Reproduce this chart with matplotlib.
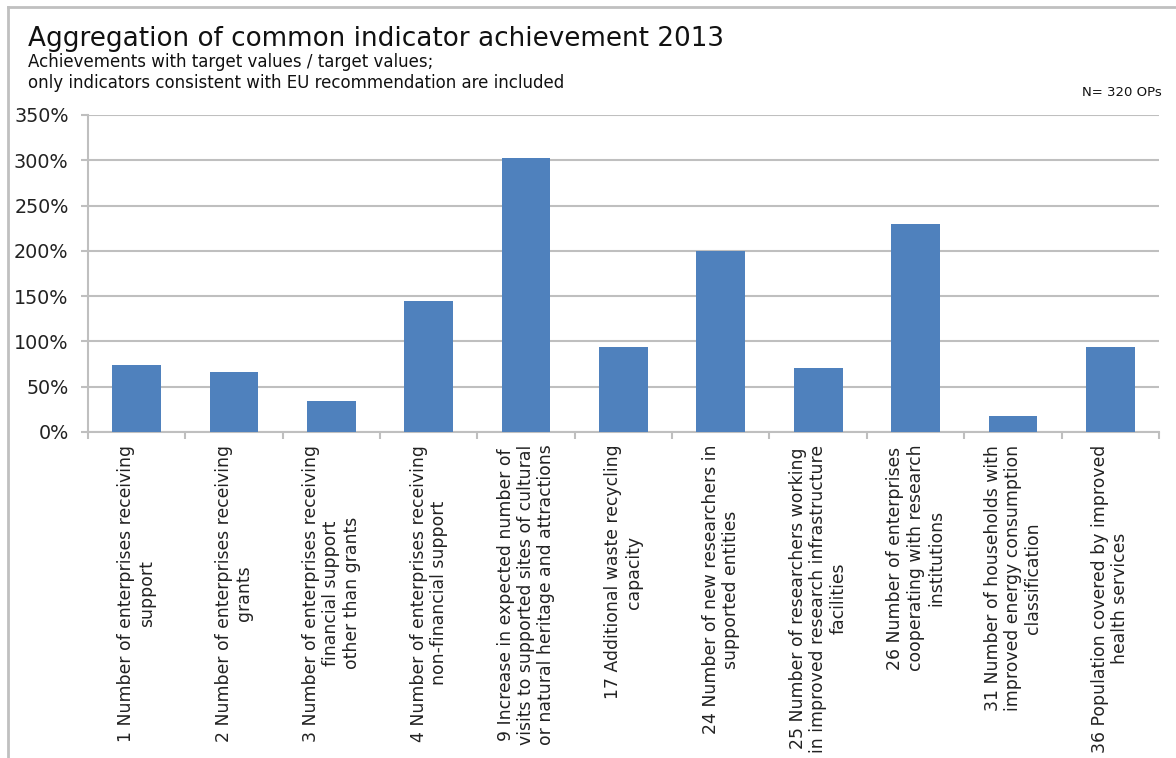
import matplotlib.pyplot as plt
from matplotlib.lines import Line2D

categories = [
    "1 Number of enterprises receiving\nsupport",
    "2 Number of enterprises receiving\ngrants",
    "3 Number of enterprises receiving\nfinancial support\nother than grants",
    "4 Number of enterprises receiving\nnon-financial support",
    "9 Increase in expected number of\nvisits to supported sites of cultural\nor natural heritage and attractions",
    "17 Additional waste recycling\ncapacity",
    "24 Number of new researchers in\nsupported entities",
    "25 Number of researchers working\nin improved research infrastructure\nfacilities",
    "26 Number of enterprises\ncooperating with research\ninstitutions",
    "31 Number of households with\nimproved energy consumption\nclassification",
    "36 Population covered by improved\nhealth services",
]
achievement = [74, 66, 34, 145, 302, 94, 200, 71, 230, 18, 94]
yticks = [0, 50, 100, 150, 200, 250, 300, 350]

grey = '#bfbfbf'
fig = plt.figure(figsize=(11.76, 7.58), dpi=100)
ax = fig.add_axes([0.0748, 0.4301, 0.9107, 0.4182])

x = list(range(len(categories)))
ax.bar(x, achievement, width=0.5, color='#4f81bd', zorder=3)

ax.set_xlim(-0.5, len(categories) - 0.5)
ax.set_ylim(0, 350)
ax.set_yticks(yticks)
ax.set_yticklabels([f"{v}%" for v in yticks], fontsize=13.8, color='#222222')
ax.yaxis.grid(True, color=grey, lw=1.5, zorder=0)

# ticks sit between categories, labels at the centres
ax.set_xticks([i - 0.5 for i in range(len(categories) + 1)])
ax.set_xticklabels([])
ax.tick_params(axis='x', length=5, width=1.5, color=grey)
ax.tick_params(axis='y', length=5, width=1.5, color=grey, pad=9)
for i, lab in enumerate(categories):
    ax.text(i, -0.04, lab, transform=ax.get_xaxis_transform(),
            rotation=90, ha='center', va='top', multialignment='center',
            fontsize=12.4, color='#222222', linespacing=1.17)

for side in ('top', 'right'):
    ax.spines[side].set_visible(False)
for side in ('left', 'bottom'):
    ax.spines[side].set_color(grey)
    ax.spines[side].set_linewidth(1.5)

# outer chart frame
fig.add_artist(Line2D([8 / 1176, 1.0], [1 - 7 / 758, 1 - 7 / 758],
                      transform=fig.transFigure, color='#c0c0c0', lw=2))
fig.add_artist(Line2D([8 / 1176, 8 / 1176], [0, 1 - 7 / 758],
                      transform=fig.transFigure, color='#c0c0c0', lw=2))

fig.text(28 / 1176, 1 - 39 / 758, "Aggregation of common indicator achievement 2013",
         fontsize=18.9, va='center', color='#111111')
fig.text(28 / 1176, 1 - 62 / 758, "Achievements with target values / target values;",
         fontsize=12, va='center', color='#111111')
fig.text(28 / 1176, 1 - 83 / 758,
         "only indicators consistent with EU recommendation are included",
         fontsize=12, va='center', color='#111111')
fig.text(1162 / 1176, 1 - 92 / 758, "N= 320 OPs", fontsize=9.5, ha='right',
         va='center', color='#111111')

fig.savefig('out.png', dpi=100)
plt.close(fig)
